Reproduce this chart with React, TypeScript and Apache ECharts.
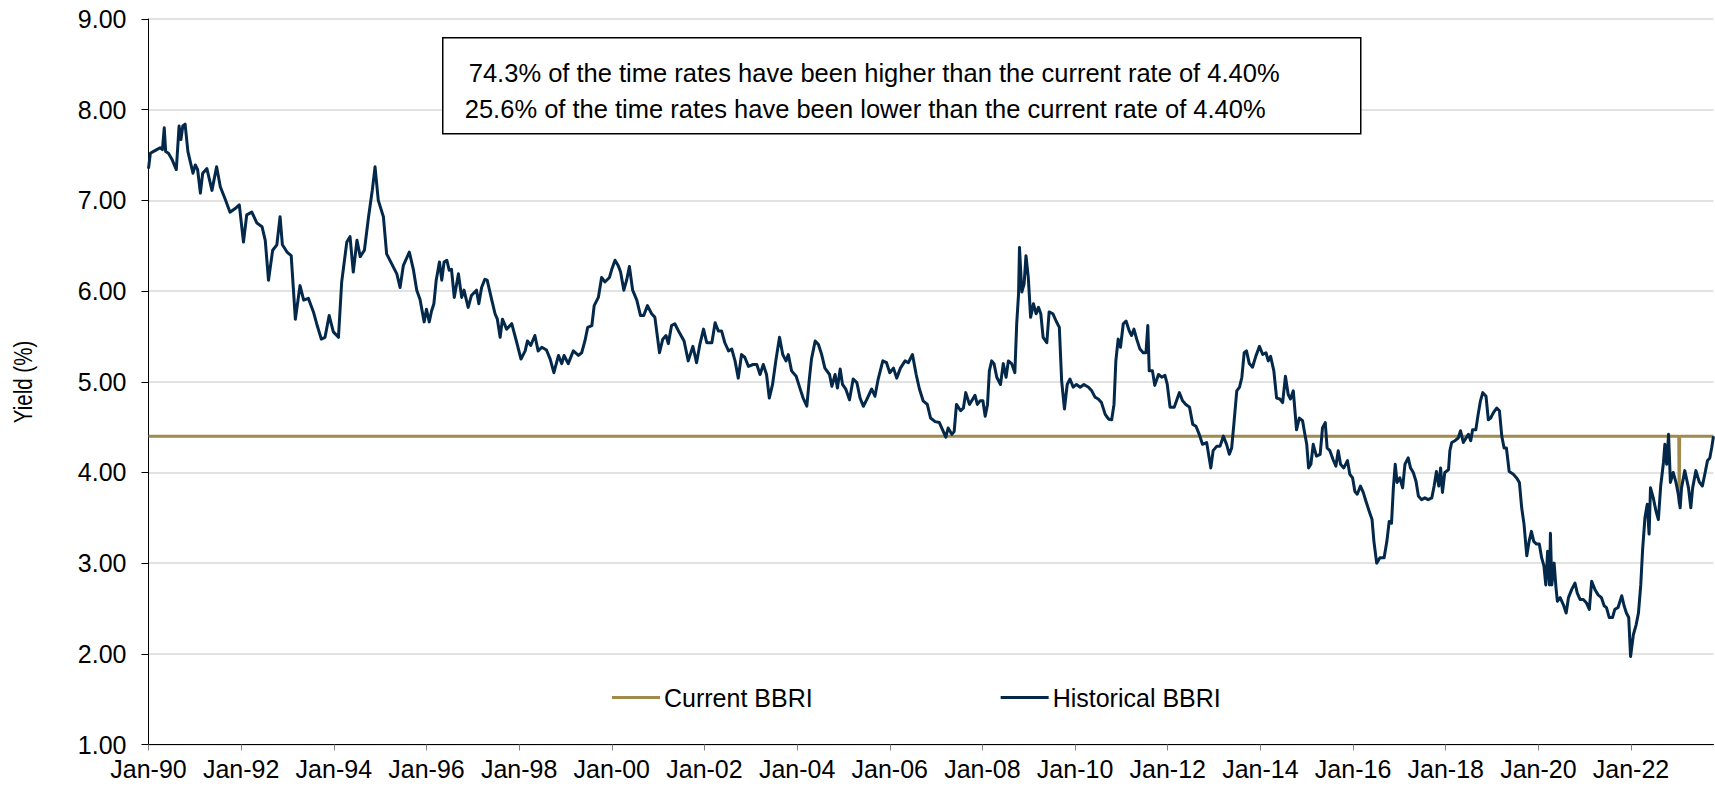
import React, { useEffect, useRef } from "react";
import * as echarts from "echarts";

// Historical BBRI yield (%), [decimal year, value]
const hist1990s: [number, number][] = [
  [1990.0, 7.35], [1990.04, 7.52], [1990.11, 7.54], [1990.18, 7.56], [1990.25, 7.58], [1990.3, 7.56],
  [1990.34, 7.8], [1990.37, 7.54], [1990.43, 7.52], [1990.5, 7.46], [1990.6, 7.34], [1990.66, 7.82],
  [1990.7, 7.67], [1990.74, 7.82], [1990.79, 7.84], [1990.85, 7.54], [1990.9, 7.43], [1990.96, 7.3],
  [1991.01, 7.39], [1991.06, 7.34], [1991.12, 7.08], [1991.17, 7.3], [1991.26, 7.35], [1991.37, 7.11],
  [1991.47, 7.37], [1991.55, 7.15], [1991.65, 7.02], [1991.76, 6.87], [1991.87, 6.91], [1991.96, 6.95],
  [1992.05, 6.54], [1992.12, 6.84], [1992.23, 6.87], [1992.34, 6.75], [1992.45, 6.71], [1992.52, 6.56],
  [1992.59, 6.12], [1992.68, 6.45], [1992.77, 6.51], [1992.84, 6.82], [1992.89, 6.51], [1992.99, 6.43],
  [1993.08, 6.39], [1993.17, 5.69], [1993.27, 6.06], [1993.35, 5.9], [1993.45, 5.92], [1993.56, 5.77],
  [1993.63, 5.64], [1993.73, 5.47], [1993.81, 5.49], [1993.9, 5.73], [1993.99, 5.55], [1994.1, 5.49],
  [1994.17, 6.1], [1994.28, 6.54], [1994.35, 6.6], [1994.42, 6.21], [1994.5, 6.56], [1994.57, 6.38],
  [1994.66, 6.45], [1994.75, 6.82], [1994.83, 7.11], [1994.89, 7.37], [1994.96, 7.0], [1995.07, 6.82],
  [1995.14, 6.41], [1995.25, 6.3], [1995.36, 6.19], [1995.43, 6.04], [1995.5, 6.28], [1995.63, 6.43],
  [1995.72, 6.23], [1995.79, 6.01], [1995.86, 5.91], [1995.95, 5.66], [1996.0, 5.8], [1996.06, 5.66],
  [1996.11, 5.78], [1996.16, 5.86], [1996.21, 6.12], [1996.28, 6.32], [1996.33, 6.12], [1996.38, 6.32],
  [1996.44, 6.34], [1996.49, 6.23], [1996.54, 6.24], [1996.6, 5.93], [1996.69, 6.19], [1996.76, 5.93],
  [1996.81, 6.01], [1996.9, 5.82], [1996.97, 5.95], [1997.08, 6.01], [1997.13, 5.86], [1997.19, 6.04],
  [1997.26, 6.13], [1997.31, 6.12], [1997.41, 5.9], [1997.48, 5.75], [1997.53, 5.69], [1997.59, 5.49],
  [1997.64, 5.69], [1997.73, 5.58], [1997.84, 5.64], [1997.95, 5.43], [1998.04, 5.25], [1998.13, 5.34],
  [1998.18, 5.45], [1998.25, 5.4], [1998.34, 5.51], [1998.41, 5.34], [1998.49, 5.38], [1998.59, 5.35],
  [1998.67, 5.25], [1998.75, 5.1], [1998.85, 5.29], [1998.92, 5.2], [1998.97, 5.29], [1999.06, 5.2],
  [1999.17, 5.34], [1999.28, 5.29], [1999.35, 5.32], [1999.42, 5.45], [1999.48, 5.6], [1999.57, 5.62],
  [1999.62, 5.84], [1999.71, 5.93], [1999.78, 6.15], [1999.85, 6.1], [1999.95, 6.15],
];

const hist2000s: [number, number][] = [
  [2000.0, 6.24], [2000.07, 6.34], [2000.14, 6.28], [2000.19, 6.21], [2000.26, 6.01], [2000.32, 6.12],
  [2000.38, 6.27], [2000.45, 6.01], [2000.54, 5.9], [2000.62, 5.73], [2000.69, 5.73], [2000.77, 5.84],
  [2000.86, 5.75], [2000.93, 5.71], [2001.03, 5.32], [2001.1, 5.47], [2001.17, 5.51], [2001.22, 5.42],
  [2001.29, 5.62], [2001.36, 5.64], [2001.44, 5.56], [2001.56, 5.45], [2001.65, 5.23], [2001.75, 5.39],
  [2001.83, 5.21], [2001.9, 5.41], [2001.98, 5.58], [2002.05, 5.43], [2002.16, 5.43], [2002.23, 5.65],
  [2002.3, 5.56], [2002.37, 5.56], [2002.44, 5.43], [2002.52, 5.34], [2002.59, 5.36], [2002.66, 5.23],
  [2002.73, 5.04], [2002.8, 5.3], [2002.87, 5.27], [2002.95, 5.17], [2003.05, 5.19], [2003.13, 5.19],
  [2003.2, 5.08], [2003.27, 5.19], [2003.34, 5.08], [2003.4, 4.82], [2003.47, 4.97], [2003.54, 5.23],
  [2003.62, 5.49], [2003.69, 5.3], [2003.76, 5.23], [2003.81, 5.3], [2003.88, 5.12], [2003.98, 5.06],
  [2004.06, 4.93], [2004.13, 4.82], [2004.21, 4.73], [2004.26, 5.01], [2004.31, 5.25], [2004.39, 5.45],
  [2004.46, 5.41], [2004.53, 5.3], [2004.6, 5.15], [2004.7, 5.08], [2004.75, 4.95], [2004.82, 5.08],
  [2004.87, 4.93], [2004.93, 5.14], [2004.98, 4.97], [2005.05, 4.92], [2005.13, 4.8], [2005.21, 5.03],
  [2005.29, 4.99], [2005.36, 4.82], [2005.43, 4.73], [2005.5, 4.8], [2005.61, 4.92], [2005.68, 4.84],
  [2005.75, 5.03], [2005.85, 5.23], [2005.93, 5.21], [2006.0, 5.1], [2006.08, 5.15], [2006.15, 5.04],
  [2006.23, 5.15], [2006.33, 5.23], [2006.4, 5.21], [2006.49, 5.3], [2006.57, 5.08], [2006.64, 4.92],
  [2006.72, 4.79], [2006.81, 4.75], [2006.88, 4.6], [2006.98, 4.56], [2007.07, 4.55], [2007.14, 4.47],
  [2007.21, 4.39], [2007.26, 4.49], [2007.34, 4.42], [2007.39, 4.45], [2007.44, 4.75], [2007.53, 4.68],
  [2007.59, 4.71], [2007.64, 4.88], [2007.72, 4.75], [2007.84, 4.85], [2007.89, 4.75], [2007.95, 4.79],
  [2008.01, 4.79], [2008.06, 4.62], [2008.11, 4.75], [2008.15, 5.12], [2008.2, 5.23], [2008.25, 5.2],
  [2008.31, 5.05], [2008.39, 4.97], [2008.45, 5.2], [2008.51, 5.05], [2008.56, 5.23], [2008.63, 5.2],
  [2008.7, 5.1], [2008.74, 5.64], [2008.78, 5.97], [2008.8, 6.48], [2008.85, 5.99], [2008.9, 6.08],
  [2008.94, 6.39], [2008.99, 6.15], [2009.04, 5.71], [2009.1, 5.86], [2009.16, 5.75], [2009.21, 5.82],
  [2009.26, 5.75], [2009.31, 5.49], [2009.39, 5.43], [2009.44, 5.77], [2009.52, 5.75], [2009.59, 5.67],
  [2009.66, 5.6], [2009.71, 5.01], [2009.77, 4.7], [2009.83, 4.97], [2009.89, 5.03], [2009.96, 4.94],
];

const hist2010s: [number, number][] = [
  [2010.03, 4.97], [2010.11, 4.94], [2010.19, 4.97], [2010.29, 4.94], [2010.36, 4.9], [2010.43, 4.83],
  [2010.5, 4.81], [2010.57, 4.77], [2010.65, 4.64], [2010.72, 4.59], [2010.79, 4.58], [2010.84, 4.75],
  [2010.88, 5.23], [2010.93, 5.47], [2010.98, 5.38], [2011.04, 5.64], [2011.1, 5.67], [2011.17, 5.56],
  [2011.22, 5.51], [2011.27, 5.58], [2011.33, 5.47], [2011.4, 5.36], [2011.47, 5.32], [2011.53, 5.32],
  [2011.57, 5.62], [2011.6, 5.12], [2011.67, 5.12], [2011.72, 4.96], [2011.8, 5.08], [2011.87, 5.05],
  [2011.94, 5.07], [2011.99, 4.97], [2012.05, 4.72], [2012.14, 4.72], [2012.19, 4.79], [2012.25, 4.88],
  [2012.32, 4.79], [2012.39, 4.75], [2012.47, 4.72], [2012.54, 4.53], [2012.61, 4.51], [2012.68, 4.42],
  [2012.75, 4.31], [2012.84, 4.33], [2012.93, 4.05], [2012.98, 4.24], [2013.06, 4.29], [2013.13, 4.29],
  [2013.2, 4.4], [2013.27, 4.31], [2013.33, 4.2], [2013.38, 4.27], [2013.43, 4.55], [2013.49, 4.9],
  [2013.55, 4.94], [2013.6, 5.05], [2013.65, 5.32], [2013.7, 5.34], [2013.76, 5.2], [2013.83, 5.16],
  [2013.9, 5.28], [2013.98, 5.39], [2014.05, 5.3], [2014.12, 5.32], [2014.17, 5.23], [2014.22, 5.28],
  [2014.29, 5.12], [2014.35, 4.82], [2014.42, 4.81], [2014.48, 4.77], [2014.54, 5.06], [2014.6, 4.86],
  [2014.65, 4.81], [2014.71, 4.9], [2014.78, 4.47], [2014.84, 4.6], [2014.91, 4.57], [2014.96, 4.42],
  [2015.0, 4.31], [2015.04, 4.05], [2015.09, 4.09], [2015.14, 4.31], [2015.21, 4.18], [2015.29, 4.2],
  [2015.34, 4.49], [2015.4, 4.55], [2015.44, 4.27], [2015.5, 4.24], [2015.57, 4.14], [2015.63, 4.07],
  [2015.68, 4.24], [2015.73, 4.09], [2015.8, 4.05], [2015.88, 4.13], [2015.93, 3.98], [2015.99, 3.94],
  [2016.04, 3.79], [2016.09, 3.76], [2016.16, 3.85], [2016.22, 3.78], [2016.28, 3.68], [2016.35, 3.57],
  [2016.41, 3.48], [2016.45, 3.24], [2016.51, 3.0], [2016.58, 3.06], [2016.67, 3.06], [2016.73, 3.24],
  [2016.78, 3.46], [2016.83, 3.44], [2016.87, 3.83], [2016.91, 4.09], [2016.95, 3.89], [2017.01, 3.94],
  [2017.07, 3.83], [2017.12, 4.09], [2017.19, 4.16], [2017.24, 4.05], [2017.3, 4.0], [2017.36, 3.9],
  [2017.41, 3.74], [2017.48, 3.7], [2017.55, 3.72], [2017.62, 3.7], [2017.7, 3.72], [2017.75, 3.85],
  [2017.8, 4.01], [2017.85, 3.85], [2017.89, 4.05], [2017.93, 3.78], [2017.98, 4.0], [2018.06, 4.03],
  [2018.09, 4.24], [2018.13, 4.33], [2018.2, 4.35], [2018.27, 4.38], [2018.32, 4.46], [2018.38, 4.33],
  [2018.44, 4.38], [2018.49, 4.42], [2018.54, 4.35], [2018.58, 4.47], [2018.65, 4.47], [2018.7, 4.64],
  [2018.75, 4.79], [2018.8, 4.88], [2018.87, 4.84], [2018.92, 4.58], [2018.97, 4.6], [2019.03, 4.66],
  [2019.1, 4.71], [2019.16, 4.68], [2019.21, 4.4], [2019.26, 4.27], [2019.31, 4.27], [2019.37, 4.01],
  [2019.46, 3.98], [2019.53, 3.94], [2019.59, 3.89], [2019.64, 3.61], [2019.69, 3.43], [2019.75, 3.08],
  [2019.8, 3.24], [2019.85, 3.35], [2019.9, 3.24], [2019.96, 3.21],
];

const hist2020s: [number, number][] = [
  [2020.02, 3.21], [2020.07, 3.06], [2020.12, 2.97], [2020.16, 2.76], [2020.2, 3.13], [2020.24, 2.76],
  [2020.26, 3.33], [2020.29, 2.76], [2020.34, 3.0], [2020.38, 2.73], [2020.41, 2.58], [2020.47, 2.62],
  [2020.54, 2.54], [2020.6, 2.45], [2020.65, 2.62], [2020.72, 2.71], [2020.79, 2.78], [2020.84, 2.67],
  [2020.9, 2.6], [2020.97, 2.6], [2021.04, 2.56], [2021.1, 2.49], [2021.15, 2.8], [2021.22, 2.71],
  [2021.29, 2.65], [2021.36, 2.62], [2021.42, 2.53], [2021.47, 2.51], [2021.53, 2.4], [2021.6, 2.4],
  [2021.65, 2.49], [2021.72, 2.51], [2021.8, 2.64], [2021.85, 2.53], [2021.9, 2.45], [2021.95, 2.4],
  [2021.99, 1.97], [2022.05, 2.21], [2022.11, 2.32], [2022.16, 2.45], [2022.21, 2.76], [2022.25, 3.15],
  [2022.3, 3.5], [2022.35, 3.65], [2022.39, 3.32], [2022.42, 3.83], [2022.48, 3.72], [2022.54, 3.57],
  [2022.59, 3.48], [2022.64, 3.85], [2022.7, 4.11], [2022.73, 4.31], [2022.77, 4.09], [2022.81, 4.42],
  [2022.85, 3.89], [2022.91, 4.0], [2022.97, 3.89], [2023.02, 3.76], [2023.06, 3.61], [2023.09, 3.83],
  [2023.16, 4.02], [2023.24, 3.83], [2023.29, 3.61], [2023.33, 3.83], [2023.4, 4.02], [2023.47, 3.9],
  [2023.54, 3.85], [2023.6, 4.0], [2023.65, 4.13], [2023.7, 4.16], [2023.74, 4.27], [2023.78, 4.4],
];

// Current BBRI (flat at 4.40, with the one-week dip seen early 2023)
const currentBBRI: [number, number][] = [
  [1990.0, 4.4], [2023.03, 4.4], [2023.04, 3.65], [2023.05, 4.4], [2023.78, 4.4],
];

const xTickYears = [1990, 1992, 1994, 1996, 1998, 2000, 2002, 2004, 2006, 2008, 2010, 2012, 2014, 2016, 2018, 2020, 2022];
const noteLines = [
  "74.3% of the time rates have been higher than the current rate of 4.40%",
  "25.6% of the time rates have been lower than the current rate of 4.40%",
];

const FONT = "'Liberation Sans', Arial, Helvetica, sans-serif";
const NAVY = "#03284a";
const GOLD = "#a08a4c";

export default function App() {
  const ref = useRef<HTMLDivElement>(null);
  useEffect(() => {
    if (!ref.current) return;
    const chart = echarts.init(ref.current, undefined, { renderer: "svg" });
    const historical = [...hist1990s, ...hist2000s, ...hist2010s, ...hist2020s];
    chart.setOption({
      animation: false,
      backgroundColor: "#ffffff",
      textStyle: { fontFamily: FONT },
      grid: { left: 148.5, right: 1.5, top: 19, bottom: 41.5, containLabel: false },
      legend: {
        left: 607,
        top: 680,
        icon: "rect",
        itemWidth: 48,
        itemHeight: 3,
        itemGap: 188,
        textStyle: { fontSize: 25, color: "#000", fontFamily: FONT, padding: [0, 0, 0, -1] },
        data: ["Current BBRI", "Historical BBRI"],
      },
      xAxis: {
        type: "value",
        min: 1990,
        max: 2023.78,
        interval: 2,
        axisLine: { show: true, lineStyle: { color: "#000", width: 1 } },
        axisTick: { show: true, length: 6, lineStyle: { color: "#808080", width: 1 }, customValues: xTickYears },
        axisLabel: {
          customValues: xTickYears,
          fontSize: 25,
          color: "#000",
          fontFamily: FONT,
          margin: 12,
          formatter: (v: number) => "Jan-" + String(Math.round(v) % 100).padStart(2, "0"),
        },
        splitLine: { show: false },
      },
      yAxis: {
        type: "value",
        min: 1,
        max: 9,
        interval: 1,
        axisLine: { show: true, lineStyle: { color: "#000", width: 1 } },
        axisTick: { show: true, length: 7, lineStyle: { color: "#000", width: 1 } },
        axisLabel: {
          fontSize: 25,
          color: "#000",
          fontFamily: FONT,
          margin: 22,
          formatter: (v: number) => v.toFixed(2),
        },
        splitLine: { show: true, lineStyle: { color: "#d9d9d9", width: 1.5 } },
      },
      graphic: [
        {
          type: "text",
          x: 23,
          y: 382,
          rotation: Math.PI / 2,
          scaleX: 0.82,
          z: 100,
          style: { text: "Yield (%)", font: `25px ${FONT}`, fill: "#000", align: "center", verticalAlign: "middle" },
        },
        {
          type: "group",
          left: 442,
          top: 37,
          z: 100,
          children: [
            {
              type: "rect",
              z: 100,
              shape: { x: 0, y: 0, width: 918, height: 96 },
              style: { fill: "#fff", stroke: "#000", lineWidth: 1.5 },
            },
            {
              type: "text",
              z: 101,
              x: 26,
              y: 35,
              style: { text: noteLines[0], font: `25.5px ${FONT}`, fill: "#000", verticalAlign: "middle" },
            },
            {
              type: "text",
              z: 101,
              x: 22,
              y: 71,
              style: { text: noteLines[1], font: `25.5px ${FONT}`, fill: "#000", verticalAlign: "middle" },
            },
          ],
        },
      ],
      series: [
        {
          name: "Current BBRI",
          type: "line",
          data: currentBBRI,
          symbol: "none",
          lineStyle: { color: GOLD, width: 3 },
          itemStyle: { color: GOLD },
          z: 2,
        },
        {
          name: "Historical BBRI",
          type: "line",
          data: historical,
          symbol: "none",
          lineStyle: { color: NAVY, width: 3, join: "round" },
          itemStyle: { color: NAVY },
          z: 3,
        },
      ],
    });
    return () => chart.dispose();
  }, []);
  return (
    <div
      ref={ref}
      style={{ position: "fixed", left: 0, top: 0, width: 1715, height: 786, background: "#fff" }}
    />
  );
}
